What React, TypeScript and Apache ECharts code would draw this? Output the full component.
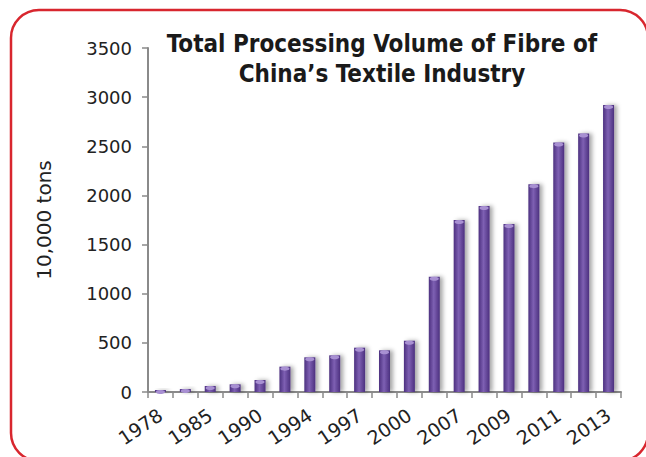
import React, { useEffect, useRef } from "react";
import * as echarts from "echarts";

const categories = ["1978", "1980", "1985", "1988", "1990", "1992", "1994", "1995", "1997", "1998", "2000", "2005", "2007", "2008", "2009", "2010", "2011", "2012", "2013"];
const volumes = [20, 30, 61, 78, 122, 258, 353, 373, 451, 424, 522, 1173, 1749, 1892, 1709, 2115, 2539, 2631, 2919];
const titleLines = ["Total Processing Volume of Fibre of", "China\u2019s Textile Industry"];
const yAxisName = "10,000 tons";

export default function App() {
  const ref = useRef<HTMLDivElement>(null);
  useEffect(() => {
    if (!ref.current) return;
    const chart = echarts.init(ref.current, null, { renderer: "svg" });
    const barColor = new echarts.graphic.LinearGradient(0, 0, 1, 0, [
      { offset: 0, color: "#4c307f" },
      { offset: 0.45, color: "#7e60b3" },
      { offset: 1, color: "#4c307f" },
    ]);
    const titleFont = "bold 24px 'DejaVu Sans Condensed', 'DejaVu Sans', sans-serif";
    chart.setOption({
      animation: false,
      backgroundColor: "#ffffff",
      grid: { left: 148, right: 25, top: 48, bottom: 65, containLabel: false },
      xAxis: {
        type: "category",
        data: categories,
        axisLine: { lineStyle: { color: "#8a8a8a", width: 2 } },
        axisTick: { show: true, interval: 0, length: 6, lineStyle: { color: "#8a8a8a", width: 1.5 } },
        axisLabel: {
          interval: 1,
          rotate: 34,
          margin: 21,
          color: "#222222",
          fontSize: 19,
          fontFamily: "DejaVu Sans",
        },
      },
      yAxis: {
        type: "value",
        min: 0,
        max: 3500,
        interval: 500,
        name: yAxisName,
        nameLocation: "middle",
        nameGap: 94,
        nameTextStyle: { color: "#222222", fontSize: 20, fontFamily: "DejaVu Sans" },
        axisLine: { show: true, lineStyle: { color: "#8a8a8a", width: 2 } },
        axisTick: { show: true, length: 6, lineStyle: { color: "#8a8a8a", width: 1.5 } },
        splitLine: { show: false },
        axisLabel: {
          color: "#222222",
          fontSize: 18,
          margin: 16,
          fontFamily: "DejaVu Sans",
          formatter: (v: number) => String(v),
        },
      },
      series: [
        {
          type: "bar",
          data: volumes,
          barWidth: 11,
          barGap: "-100%",
          itemStyle: {
            color: barColor,
            shadowColor: "rgba(0,0,0,0.35)",
            shadowBlur: 4,
            shadowOffsetX: 3,
            shadowOffsetY: 0,
          },
        },
        {
          type: "pictorialBar",
          data: volumes,
          barWidth: 11,
          barGap: "-100%",
          symbol: "circle",
          symbolSize: [9, 4],
          symbolPosition: "end",
          symbolOffset: [0, 0],
          itemStyle: { color: "#a890d2" },
          z: 3,
        },
      ],
      graphic: [
        {
          type: "rect",
          shape: { x: 11, y: 10, width: 637, height: 451, r: 28 },
          style: { fill: "none", stroke: "#d8262e", lineWidth: 2.5 },
          z: 100,
        },
        {
          type: "text",
          x: 382,
          y: 44,
          style: {
            text: titleLines[0],
            textAlign: "center",
            textVerticalAlign: "middle",
            fill: "#1a1a1a",
            font: titleFont,
          },
          z: 100,
        },
        {
          type: "text",
          x: 382,
          y: 74,
          style: {
            text: titleLines[1],
            textAlign: "center",
            textVerticalAlign: "middle",
            fill: "#1a1a1a",
            font: titleFont,
          },
          z: 100,
        },
      ],
    });
    return () => chart.dispose();
  }, []);
  return (
    <div
      ref={ref}
      style={{ position: "fixed", left: 0, top: 0, width: 646, height: 457, background: "#fff" }}
    />
  );
}
